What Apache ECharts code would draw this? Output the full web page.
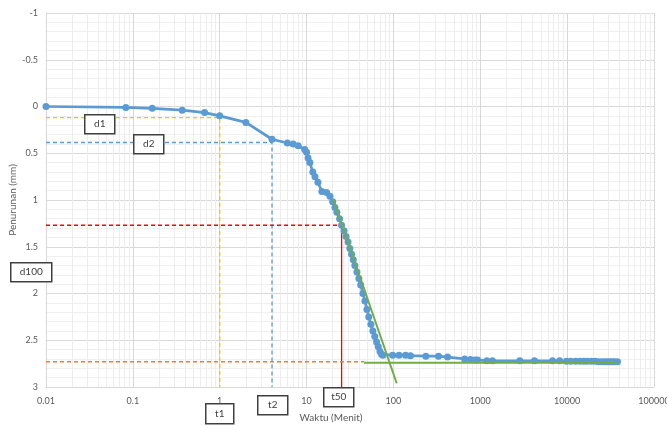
<!DOCTYPE html>
<html>
<head>
<meta charset="utf-8">
<script src="https://cdn.jsdelivr.net/npm/echarts@6/dist/echarts.min.js"></script>
<style>
  html, body { margin: 0; padding: 0; background: #ffffff; }
  #chart { width: 667px; height: 428px; }
</style>
</head>
<body>
<div id="chart"></div>
<script>
// Consolidation test: settlement versus time (log scale), Casagrande method
const waktu = [
  0.01, 0.083, 0.167, 0.37, 0.67, 1, 2, 4, 6, 7, 8, 9.5, 10, 10.4, 10.9,
  11.8, 12.5, 13.5, 15, 17, 18.6, 20, 21.2, 22.3, 24, 25.3,
  27, 28.5, 30, 31.5, 33, 34.5, 36, 38, 40, 42, 44.5, 47, 49.5, 52, 55,
  58, 61, 64, 67, 70, 73, 75.5,
  98, 116, 138, 157, 236, 330, 420, 660, 770, 870, 930, 1190, 1380,
  2850, 4200, 6800, 8200, 9800, 11000, 12500, 14000, 15500, 17000,
  19000, 21000, 23000, 25000, 27000, 29000, 31000, 33000, 35000, 38000
];
const penurunan = [
  0, 0.01, 0.02, 0.04, 0.065, 0.1, 0.17, 0.35, 0.39, 0.40, 0.42, 0.46, 0.49, 0.55, 0.60,
  0.70, 0.75, 0.81, 0.91, 0.92, 0.96, 1.02, 1.08, 1.13, 1.20, 1.27,
  1.33, 1.39, 1.45, 1.52, 1.58, 1.64, 1.70, 1.77, 1.84, 1.91, 2.0, 2.08, 2.17, 2.25, 2.33,
  2.40, 2.46, 2.52, 2.57, 2.62, 2.65, 2.66,
  2.66, 2.66, 2.66, 2.665, 2.67, 2.67, 2.68, 2.70, 2.705, 2.71, 2.71, 2.72, 2.72,
  2.72, 2.72, 2.72, 2.72, 2.725, 2.725, 2.725, 2.725, 2.725, 2.725,
  2.725, 2.725, 2.73, 2.73, 2.73, 2.73, 2.73, 2.73, 2.73, 2.73
];

// Construction values
const tStart = 0.01;
const dBottom = 3;
const t1 = 1, d1 = 0.12;
const t2 = 4, d2 = 0.385;
const t50 = 25.3, d50 = 1.27;
const d100 = 2.73;
const tangentT = [20.4, 109];
const tangentD = [1.0, 2.96];
const asymT = [46, 38000];
const asymD = [2.74, 2.74];

// Axis ticks
const xTicks = [0.01, 0.1, 1, 10, 100, 1000, 10000, 100000];
const yMin = -1, yMax = 3, yStep = 0.5;

// Minor log grid positions (2..9 within each decade)
const minorX = [];
for (let k = 0; k < xTicks.length - 1; k++) {
  for (let m = 2; m <= 9; m++) minorX.push(+(xTicks[k] * m).toPrecision(6));
}

const FONT = 'Lato, "Open Sans", sans-serif';
const dashed = (color) => ({ color: color, width: 1.3, type: [4, 3] });

const chart = echarts.init(document.getElementById('chart'));
chart.setOption({
  animation: false,
  backgroundColor: '#ffffff',
  grid: { left: 46, right: 13, top: 13, bottom: 41, containLabel: false, outerBoundsMode: 'none' },
  xAxis: {
    type: 'log',
    logBase: 10,
    min: xTicks[0],
    max: xTicks[xTicks.length - 1],
    name: 'Waktu (Menit)',
    nameLocation: 'middle',
    nameGap: 26,
    nameMoveOverlap: false,
    nameTextStyle: { color: '#595959', fontSize: 10, fontFamily: FONT, padding: [0, 38, 0, 0] },
    axisLine: { show: true, onZero: false, lineStyle: { color: '#d9d9d9' } },
    axisTick: { show: false },
    axisLabel: {
      color: '#595959', fontSize: 9, fontFamily: FONT, margin: 10,
      formatter: (v) => String(+v.toPrecision(6))
    },
    splitLine: { show: true, lineStyle: { color: '#d9d9d9', width: 1 } }
  },
  yAxis: {
    type: 'value',
    inverse: true,
    min: yMin,
    max: yMax,
    interval: yStep,
    name: 'Penurunan (mm)',
    nameLocation: 'middle',
    nameGap: 28,
    nameRotate: 90,
    nameMoveOverlap: false,
    nameTextStyle: { color: '#595959', fontSize: 10, fontFamily: FONT },
    axisLine: { show: true, onZero: false, lineStyle: { color: '#d9d9d9' } },
    axisTick: { show: false },
    axisLabel: { color: '#595959', fontSize: 9, fontFamily: FONT, margin: 8 },
    splitLine: { show: true, lineStyle: { color: '#d9d9d9', width: 1 } },
    minorTick: { show: false, splitNumber: 5 },
    minorSplitLine: { show: true, lineStyle: { color: '#f0f0f0', width: 1 } }
  },
  series: [
    {
      name: 'minor-grid',
      type: 'line',
      data: [],
      silent: true,
      z: 0,
      markLine: {
        z: 0,
        silent: true,
        symbol: ['none', 'none'],
        label: { show: false },
        lineStyle: { color: '#ededed', width: 1, type: 'solid' },
        emphasis: { disabled: true },
        data: minorX.map((v) => ({ xAxis: v }))
      }
    },
    {
      name: 'd1', type: 'line', symbol: 'none', silent: true, z: 1,
      lineStyle: dashed('#ffc000'),
      data: [[tStart, d1], [t1, d1], [t1, dBottom]]
    },
    {
      name: 'd2', type: 'line', symbol: 'none', silent: true, z: 1,
      lineStyle: dashed('#5b9bd5'),
      data: [[tStart, d2], [t2, d2], [t2, dBottom]]
    },
    {
      name: 'd50', type: 'line', symbol: 'none', silent: true, z: 1,
      lineStyle: dashed('#ff0000'),
      data: [[tStart, d50], [t50, d50]]
    },
    {
      name: 't50', type: 'line', symbol: 'none', silent: true, z: 1,
      lineStyle: { color: '#ff0000', width: 1.3 },
      data: [[t50, d50], [t50, dBottom]]
    },
    {
      name: 'd100', type: 'line', symbol: 'none', silent: true, z: 1,
      lineStyle: dashed('#ed7d31'),
      data: [[tStart, d100], [asymT[0], d100]]
    },
    {
      name: 'Penurunan', type: 'line', z: 3,
      symbol: 'circle', symbolSize: 7,
      itemStyle: { color: '#5b9bd5' },
      lineStyle: { color: '#5b9bd5', width: 2.75 },
      data: waktu.map((t, i) => [t, penurunan[i]])
    },
    {
      name: 'tangent', type: 'line', symbol: 'none', silent: true, z: 4,
      lineStyle: { color: '#70ad47', width: 2 },
      data: tangentT.map((t, i) => [t, tangentD[i]])
    },
    {
      name: 'asymptote', type: 'line', symbol: 'none', silent: true, z: 4,
      lineStyle: { color: '#70ad47', width: 2 },
      data: asymT.map((t, i) => [t, asymD[i]])
    }
  ],
  graphic: [
    ['d1', 84, 114, 30, 19],
    ['d2', 133, 134, 30, 19],
    ['d100', 10, 262, 41, 19],
    ['t1', 205, 403, 28, 20],
    ['t2', 257, 395, 30, 19],
    ['t50', 323, 387, 30, 19]
  ].map(([txt, x, y, w, h]) => ({
    type: 'group', left: x, top: y, z: 100,
    children: [
      { type: 'rect', z: 100, shape: { x: 0, y: 0, width: w, height: h },
        style: { fill: '#ffffff', stroke: '#404040', lineWidth: 1.5 } },
      { type: 'text', z: 101, x: w / 2, y: h / 2,
        style: { text: txt, fill: '#404040', font: '10px ' + FONT, align: 'center', verticalAlign: 'middle' } }
    ]
  }))
});
</script>
</body>
</html>
